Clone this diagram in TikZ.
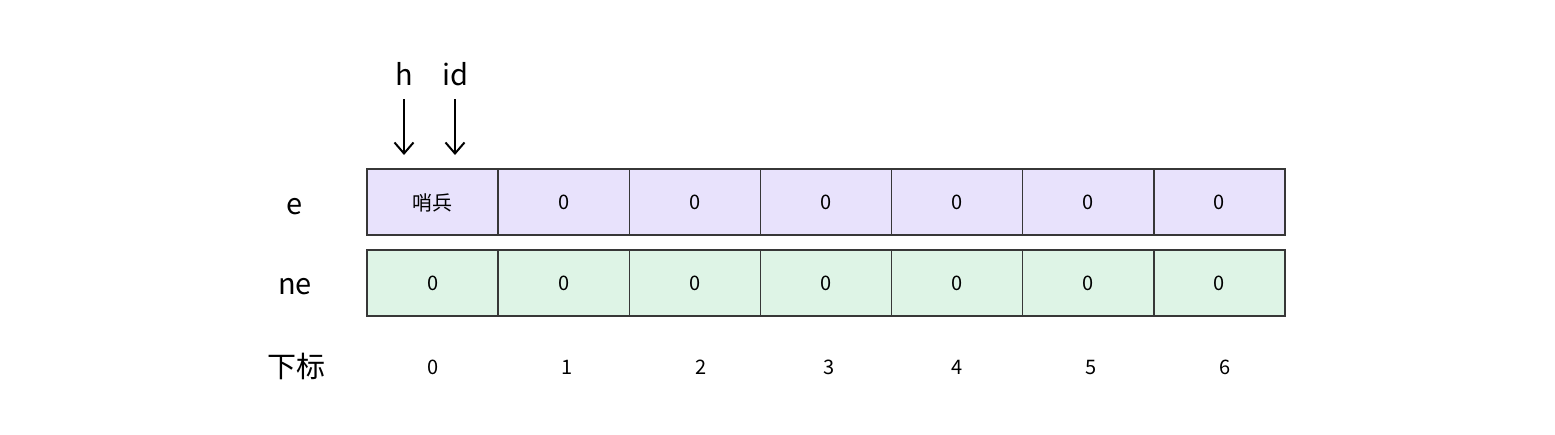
\documentclass[tikz,border=0pt]{standalone}
\usepackage{fontspec}
\setmainfont{Noto Sans CJK SC}
\usetikzlibrary{arrows.meta}

\definecolor{epurple}{RGB}{232,226,252}
\definecolor{negreen}{RGB}{222,244,230}
\definecolor{cellline}{RGB}{55,55,55}

\tikzset{
  cell/.style = {draw=cellline, line width=1.3pt, minimum width=131.1pt,
                 minimum height=66pt, inner sep=0pt, text depth=-2pt,
                 font=\fontsize{20}{24}\selectfont},
  rowlabel/.style = {font=\fontsize{29}{34}\selectfont},
  idxlabel/.style = {font=\fontsize{20}{24}\selectfont},
  ptr/.style = {line width=2pt, -{Straight Barb[length=11pt, width=19pt]}}
}

\begin{document}
\begin{tikzpicture}[x=1pt, y=-1pt]
\useasboundingbox (0,0) rectangle (1555,434);

% row labels
\node [rowlabel] (le)  at (295,207) {e};
\node [rowlabel] (lne) at (295,287) {ne};
\node [rowlabel] (lidx) at (296,366) {下标};

% e and ne arrays
\node [cell, fill=epurple] (e0) at ({367+131.14*0.5},202) {哨兵};
\foreach \i in {1,...,6}
	\node [cell, fill=epurple] (e\i) at ({367+131.14*(\i+0.5)},202) {0};
\foreach \i in {0,...,6}
	\node [cell, fill=negreen] (n\i) at ({367+131.14*(\i+0.5)},283) {0};

% indices
\foreach \i/\x in {0/433, 1/567, 2/701, 3/829, 4/957, 5/1091, 6/1225}
	\node [idxlabel] (idx\i) at (\x,367) {\i};

% pointers
\node [rowlabel] (h)  at (404,74) {h};
\node [rowlabel] (id) at (455,74) {id};
\coordinate (hend)  at (404,155);
\coordinate (idend) at (455,155);
\draw [ptr] (404,99) -- (hend);
\draw [ptr] (455,99) -- (idend);
\end{tikzpicture}
\end{document}
